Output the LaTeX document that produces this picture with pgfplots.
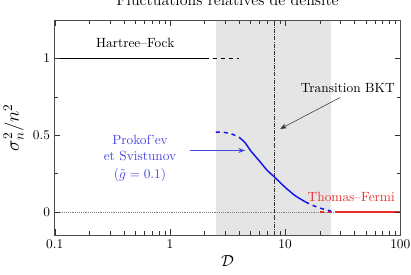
\documentclass[border=0pt]{standalone}
\usepackage{pgfplots}
\pgfplotsset{compat=1.18}
\usetikzlibrary{arrows.meta}
\definecolor{myblue}{RGB}{20,20,230}
\definecolor{lblue}{RGB}{70,70,225}
\definecolor{myred}{RGB}{235,45,45}
\begin{document}
\begin{tikzpicture}
\begin{axis}[
  scale only axis, width=259pt, height=161pt,
  at={(0,0)}, anchor=south west,
  xmode=log, xmin=0.1, xmax=100,
  ymin=-0.15, ymax=1.25,
  xtick={0.1,1,10,100}, xticklabels={0.1,1,10,100},
  ytick={0,0.5,1}, yticklabels={0,0.5,1},
  minor ytick={0.25,0.75},
  axis on top,
  axis line style={gray!60!black},
  tick style={gray!40!black},
  xlabel={$\mathcal{D}$},
  xlabel style={font=\large, yshift=2pt},
  ylabel={$\sigma_n^2/n^2$},
  ylabel style={font=\Large, yshift=0pt},
  clip=true,
]
\addplot [fill=gray!20, draw=none] coordinates {(2.5,-0.15)(25,-0.15)(25,1.25)(2.5,1.25)} -- cycle;
\addplot [densely dotted, gray, thin] coordinates {(0.1,0)(27,0)};
\addplot [densely dashdotted, gray!40!black, thin] coordinates {(8,-0.15)(8,1.25)};
% Hartree-Fock
\addplot [black, line width=1.3pt] coordinates {(0.1,1)(2,1)};
\addplot [black, line width=1.3pt, dashed] coordinates {(2,1)(4,1)};
% Thomas-Fermi
\addplot [myred, line width=1.3pt, dashed] coordinates {(20,0)(27,0)};
\addplot [myred, line width=1.3pt] coordinates {(27,0)(100,0)};
% Prokof'ev - Svistunov
\addplot [myblue, line width=1.1pt, dashed, smooth] coordinates {(2.5,0.52)(3,0.517)(3.5,0.505)(4,0.485)};
\addplot [myblue, line width=1.1pt, smooth] coordinates {(4,0.485)(4.5,0.45)(5,0.40)(6,0.33)(7,0.27)(8,0.23)(10,0.16)(12,0.11)(13.5,0.085)(15,0.065)};
\addplot [myblue, line width=1.1pt, dashed, smooth] coordinates {(15,0.065)(17,0.045)(20,0.025)(25,0.005)};
% annotations
\node at (axis cs:0.5,1.10) {Hartree--Fock};
\node at (axis cs:35,0.81) {Transition BKT};
\draw [-{Stealth[length=5pt]}, black!80] (axis cs:30,0.745) -- (axis cs:9.05,0.54);
\node [lblue, align=center] at (axis cs:0.55,0.35) {Prokof'ev\\[0.5pt] et Svistunov\\[1pt] $(\tilde{g}=0.1)$};
\draw [-{Stealth[length=5pt]}, lblue] (axis cs:1.49,0.40) -- (axis cs:4.49,0.40);
\node [myred] at (axis cs:37.5,0.10) {Thomas--Fermi};
\end{axis}
\node [anchor=base, font=\large] at (129.5pt,172pt) {Fluctuations relatives de densit\'e};
\pgfresetboundingbox
\useasboundingbox (-41pt,-30pt) rectangle (267pt,176pt);
\end{tikzpicture}
\end{document}
